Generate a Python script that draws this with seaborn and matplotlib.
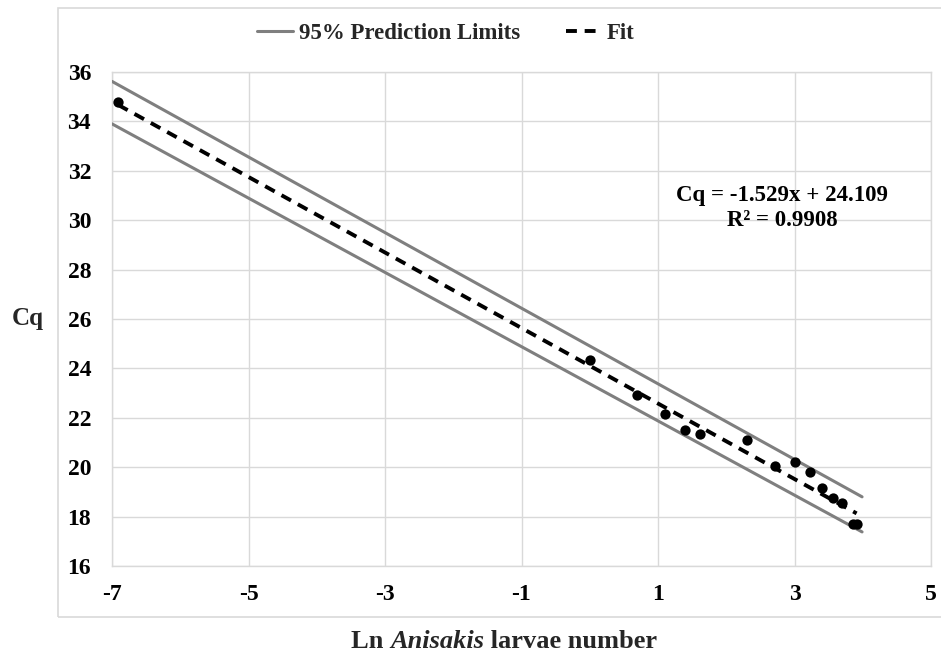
import matplotlib
matplotlib.use("Agg")
import matplotlib.pyplot as plt
from matplotlib.patches import Rectangle
from matplotlib.lines import Line2D
import seaborn as sns
import pandas as pd

# ---- data ----
ln_larvae = [-6.91, 0.0, 0.69, 1.10, 1.39, 1.61, 2.30, 2.71, 3.00, 3.22, 3.40, 3.56, 3.69, 3.85, 3.91]
cq_values = [34.80, 24.34, 22.92, 22.15, 21.50, 21.34, 21.10, 20.05, 20.20, 19.80, 19.16, 18.75, 18.55, 17.70, 17.72]

fit_x = [-6.91, 3.91]
fit_y = [34.67, 18.13]

limit_x = [-7.0, 3.99]
upper_y = [35.62, 18.80]
lower_y = [33.90, 17.38]

x_ticks = [-7, -5, -3, -1, 1, 3, 5]
y_ticks = [16, 18, 20, 22, 24, 26, 28, 30, 32, 34, 36]

equation_text = "Cq = -1.529x + 24.109\nR² = 0.9908"
x_label_parts = ("Ln ", "Anisakis", " larvae number")
y_label = "Cq"
legend_labels = ["95% Prediction Limits", "Fit"]

# ---- styling ----
sns.set_theme(style="white")
plt.rcParams["font.family"] = ["Liberation Serif", "DejaVu Serif"]
plt.rcParams["font.weight"] = "bold"

fig = plt.figure(figsize=(9.41, 6.55), dpi=100)
ax = fig.add_axes([112 / 941, 1 - 566 / 655, (931 - 112) / 941, (566 - 72) / 655])

grid_c = "#d9d9d9"
lim_c = "#7f7f7f"

pts = pd.DataFrame({"x": ln_larvae, "y": cq_values})
fit_df = pd.DataFrame({"x": fit_x, "y": fit_y})
up_df = pd.DataFrame({"x": limit_x, "y": upper_y})
lo_df = pd.DataFrame({"x": limit_x, "y": lower_y})

sns.lineplot(data=up_df, x="x", y="y", ax=ax, color=lim_c, linewidth=2.2, sort=False, zorder=3)
sns.lineplot(data=lo_df, x="x", y="y", ax=ax, color=lim_c, linewidth=2.2, sort=False, zorder=3)
sns.lineplot(data=fit_df, x="x", y="y", ax=ax, color="black", linewidth=2.8, sort=False, zorder=4,
             dashes=False, linestyle=(0, (2.8, 2.0)))
sns.scatterplot(data=pts, x="x", y="y", ax=ax, color="black", s=55, edgecolor="black",
                linewidth=0, zorder=5)

ax.set_xlim(-7, 5)
ax.set_ylim(16, 36)
ax.set_xticks(x_ticks)
ax.set_yticks(y_ticks)
ax.set_xticklabels([str(t) for t in x_ticks], fontsize=17, fontweight="bold")
ax.set_yticklabels([str(t) for t in y_ticks], fontsize=17, fontweight="bold")
ax.tick_params(axis="both", length=0, colors="black")
ax.tick_params(axis="x", pad=13)
ax.tick_params(axis="y", pad=15)
ax.grid(True, color=grid_c, linewidth=1.0)
ax.set_axisbelow(True)
for s in ax.spines.values():
    s.set_color(grid_c)
    s.set_linewidth(1.0)
ax.set_xlabel("")
ax.set_ylabel("")

# equation
ax.text(2.82, 30.5, equation_text, ha="center", va="center", fontsize=16.5,
        fontweight="bold", linespacing=1.25, color="black")

# axis titles
fig.text(28 / 941, 1 - 318 / 655, y_label, ha="center", va="center", fontsize=18, fontweight="bold")
x0 = 351 / 941
yl = 1 - 641 / 655
t1 = fig.text(x0, yl, x_label_parts[0], ha="left", va="center", fontsize=19, fontweight="bold")
fig.canvas.draw()
r = fig.canvas.get_renderer()
bb = t1.get_window_extent(r)
t2 = fig.text(bb.x1 / fig.bbox.width, yl, x_label_parts[1], ha="left", va="center", fontsize=19,
              fontweight="bold", fontstyle="italic")
bb2 = t2.get_window_extent(r)
fig.text(bb2.x1 / fig.bbox.width, yl, x_label_parts[2], ha="left", va="center", fontsize=19,
         fontweight="bold")

# legend
handles = [Line2D([0], [0], color=lim_c, linewidth=2.2),
           Line2D([0], [0], color="black", linewidth=2.8, linestyle=(0, (2.8, 2.0)))]
leg = fig.legend(handles, legend_labels, loc="center", bbox_to_anchor=(446 / 941, 1 - 33 / 655),
                 ncol=2, frameon=False, handlelength=1.55, handletextpad=0.25,
                 columnspacing=2.0, prop={"weight": "bold", "size": 16.5})

# outer chart border
fig.patches.append(Rectangle((58 / 941, 1 - 617 / 655), 1.0, (617 - 8) / 655,
                             transform=fig.transFigure, fill=False, edgecolor=grid_c,
                             linewidth=1.2, zorder=0))

fig.savefig("out.png", dpi=100)
